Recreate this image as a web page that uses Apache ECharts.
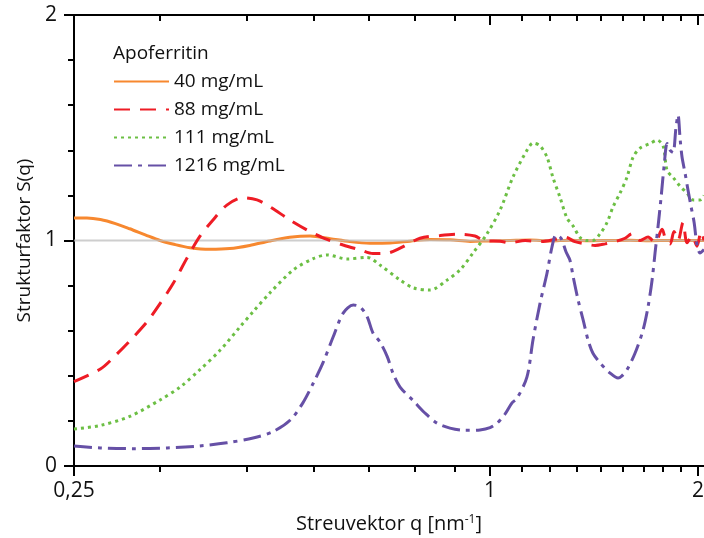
<!DOCTYPE html>
<html><head><meta charset="utf-8">
<script src="https://cdn.jsdelivr.net/npm/echarts@6/dist/echarts.min.js"></script>
<style>html,body{margin:0;padding:0;background:#fff}#c{width:704px;height:538px}</style>
</head><body><div id="c"></div>
<script>
// ---- data ----
const xMajorTicks = [0.25, 1, 2];
const xMinorTicks = [0.333, 0.444, 0.556, 0.667, 0.778, 0.889, 1.111, 1.222, 1.333, 1.444, 1.556, 1.667, 1.778, 1.889];
const seriesNames = ['40 mg/mL', '88 mg/mL', '111 mg/mL', '1216 mg/mL'];

const q40 = [0.25, 0.261, 0.273, 0.287, 0.301, 0.317, 0.333, 0.35, 0.368, 0.393, 0.42, 0.449, 0.48, 0.513, 0.549, 0.587, 0.627, 0.67, 0.717, 0.766, 0.819, 0.875, 0.936, 1.0, 1.069, 1.142, 1.221, 1.305, 1.395, 1.491, 1.594, 1.704, 1.822, 1.947, 2.04];
const s40 = [1.10, 1.10, 1.093, 1.075, 1.052, 1.025, 1.0, 0.982, 0.968, 0.961, 0.964, 0.978, 0.998, 1.014, 1.02, 1.008, 0.995, 0.988, 0.989, 0.997, 1.004, 1.003, 0.996, 0.998, 1.0, 1.002, 0.998, 1.001, 0.999, 1.0, 1.001, 0.999, 1.0, 1.0, 1.0];

const q88 = [0.25, 0.273, 0.287, 0.305, 0.319, 0.333, 0.348, 0.364, 0.38, 0.397, 0.416, 0.439, 0.46, 0.48, 0.514, 0.544, 0.573, 0.613, 0.649, 0.677, 0.71, 0.741, 0.792, 0.847, 0.905, 0.951, 0.981, 1.034, 1.069, 1.124, 1.181, 1.242, 1.284, 1.327, 1.373, 1.419, 1.467, 1.517, 1.568, 1.606, 1.649, 1.693, 1.733, 1.774, 1.797, 1.822, 1.846, 1.871, 1.902, 1.928, 1.96, 1.993, 2.02, 2.04];
const s88 = [0.374, 0.43, 0.49, 0.573, 0.64, 0.72, 0.81, 0.92, 1.017, 1.09, 1.157, 1.19, 1.18, 1.15, 1.09, 1.046, 1.012, 0.98, 0.958, 0.942, 0.944, 0.966, 1.01, 1.022, 1.028, 1.02, 1.0, 0.997, 0.99, 1.0, 0.995, 1.005, 1.015, 0.995, 0.985, 0.978, 0.985, 0.995, 1.01, 1.03, 1.0, 1.015, 0.99, 1.05, 1.0, 0.985, 1.04, 1.0, 1.08, 0.99, 1.02, 0.975, 1.04, 1.0];

const q111 = [0.25, 0.273, 0.301, 0.333, 0.356, 0.38, 0.407, 0.435, 0.454, 0.48, 0.519, 0.555, 0.581, 0.621, 0.664, 0.693, 0.741, 0.774, 0.819, 0.867, 0.905, 0.945, 0.99, 1.034, 1.08, 1.131, 1.154, 1.181, 1.209, 1.233, 1.263, 1.292, 1.319, 1.35, 1.381, 1.409, 1.443, 1.477, 1.507, 1.542, 1.578, 1.611, 1.649, 1.704, 1.745, 1.78, 1.804, 1.84, 1.884, 1.928, 1.967, 2.013, 2.04];
const s111 = [0.164, 0.18, 0.22, 0.293, 0.35, 0.426, 0.514, 0.618, 0.684, 0.767, 0.869, 0.92, 0.936, 0.918, 0.925, 0.891, 0.825, 0.79, 0.78, 0.825, 0.87, 0.945, 1.03, 1.135, 1.283, 1.40, 1.432, 1.42, 1.37, 1.28, 1.19, 1.10, 1.064, 1.013, 1.0, 1.0, 1.03, 1.08, 1.15, 1.21, 1.28, 1.37, 1.41, 1.43, 1.445, 1.42, 1.31, 1.28, 1.24, 1.21, 1.18, 1.18, 1.2];

const q1216 = [0.25, 0.273, 0.304, 0.341, 0.38, 0.416, 0.454, 0.485, 0.514, 0.536, 0.555, 0.573, 0.593, 0.613, 0.634, 0.649, 0.664, 0.677, 0.693, 0.71, 0.724, 0.741, 0.774, 0.805, 0.838, 0.875, 0.92, 0.967, 1.0, 1.024, 1.051, 1.076, 1.094, 1.131, 1.154, 1.181, 1.209, 1.229, 1.246, 1.267, 1.288, 1.305, 1.319, 1.341, 1.364, 1.386, 1.409, 1.443, 1.492, 1.532, 1.552, 1.578, 1.621, 1.665, 1.693, 1.716, 1.733, 1.75, 1.768, 1.786, 1.804, 1.822, 1.84, 1.858, 1.871, 1.884, 1.896, 1.915, 1.934, 1.954, 1.974, 1.993, 2.013, 2.04];
const s1216 = [0.089, 0.08, 0.077, 0.08, 0.089, 0.103, 0.124, 0.152, 0.204, 0.28, 0.368, 0.457, 0.573, 0.678, 0.714, 0.705, 0.662, 0.59, 0.55, 0.485, 0.41, 0.35, 0.29, 0.235, 0.19, 0.168, 0.158, 0.16, 0.17, 0.19, 0.23, 0.28, 0.30, 0.395, 0.56, 0.72, 0.855, 0.97, 1.025, 1.01, 0.95, 0.913, 0.84, 0.736, 0.647, 0.559, 0.5, 0.457, 0.412, 0.39, 0.40, 0.426, 0.5, 0.603, 0.706, 0.825, 0.945, 1.06, 1.19, 1.33, 1.43, 1.40, 1.39, 1.50, 1.556, 1.45, 1.37, 1.30, 1.224, 1.15, 1.08, 0.98, 0.945, 0.96];

const refLine = [[0.25, 1], [2.04, 1]];

// ---- chart ----
const zip = (a, b) => a.map((v, i) => [v, b[i]]);
const FONT = 'Open Sans';
const TXT = '#111';
const xRange = { min: 0.25, max: 2.04 };
const axisLineStyle = { color: '#000', width: 2 };

function xAxisBase(pos, extra) {
  return Object.assign({
    type: 'log', logBase: 10, position: pos, min: xRange.min, max: xRange.max,
    splitLine: { show: false }, minorTick: { show: false }, minorSplitLine: { show: false },
    axisLine: { show: false },
    axisLabel: { show: false }
  }, extra);
}

const chart = echarts.init(document.getElementById('c'));
chart.setOption({
  animation: false,
  backgroundColor: '#fff',
  textStyle: { fontFamily: FONT },
  grid: { left: 74, right: 0, top: 15, bottom: 72, containLabel: false, outerBoundsMode: 'none' },
  title: { text: 'Apoferritin', left: 108, top: 39, textStyle: { fontFamily: FONT, fontSize: 19, fontWeight: 'normal', color: TXT } },
  legend: {
    orient: 'vertical', left: 108, top: 67, itemWidth: 55, itemHeight: 20, itemGap: 9,
    selectedMode: false, data: seriesNames,
    itemStyle: { opacity: 0 },
    textStyle: { fontFamily: FONT, fontSize: 19, color: TXT }
  },
  xAxis: [
    xAxisBase('bottom', {
      axisLine: { show: true, lineStyle: axisLineStyle },
      axisTick: { show: true, customValues: xMajorTicks, length: 10, lineStyle: axisLineStyle },
      axisLabel: { show: true, customValues: xMajorTicks, margin: 15, fontSize: 21, color: TXT, fontFamily: FONT,
        formatter: v => String(Math.round(v * 100) / 100).replace('.', ',') },
      name: 'Streuvektor q [nm{sup|-1}]', nameLocation: 'middle', nameGap: 48,
      nameTextStyle: { fontSize: 20, color: TXT, fontFamily: FONT,
        rich: { sup: { fontSize: 12, verticalAlign: 'top', color: TXT, fontFamily: FONT, padding: [0, 0, 8, 0] } } }
    }),
    xAxisBase('bottom', {
      axisTick: { show: true, customValues: xMinorTicks, length: 6, lineStyle: axisLineStyle }
    }),
    xAxisBase('top', {
      axisLine: { show: true, lineStyle: axisLineStyle },
      axisTick: { show: true, inside: true, customValues: xMajorTicks, length: 10, lineStyle: axisLineStyle }
    }),
    xAxisBase('top', {
      axisTick: { show: true, inside: true, customValues: xMinorTicks, length: 6, lineStyle: axisLineStyle }
    })
  ],
  yAxis: {
    type: 'value', min: 0, max: 2, interval: 1,
    splitLine: { show: false },
    axisLine: { show: true, lineStyle: axisLineStyle },
    axisTick: { show: true, length: 10, lineStyle: axisLineStyle },
    minorTick: { show: true, splitNumber: 5, length: 6, lineStyle: axisLineStyle },
    axisLabel: { margin: 17, fontSize: 21, color: TXT, fontFamily: FONT },
    name: 'Strukturfaktor S(q)', nameLocation: 'middle', nameGap: 38, nameRotate: 90,
    nameTextStyle: { fontSize: 19, color: TXT, fontFamily: FONT }
  },
  series: [
    { name: seriesNames[0], type: 'line', data: zip(q40, s40), showSymbol: false, symbol: 'none', smooth: 0.3,
      lineStyle: { color: '#F7882F', width: 3 }, itemStyle: { color: '#F7882F' }, z: 2 },
    { name: 'ref', type: 'line', data: refLine, showSymbol: false, symbol: 'none', silent: true,
      lineStyle: { color: 'rgba(190,190,190,0.75)', width: 2 }, z: 3 },
    { name: seriesNames[1], type: 'line', data: zip(q88, s88), showSymbol: false, symbol: 'none', smooth: 0.3,
      lineStyle: { color: '#EE1C25', width: 3, type: [16, 10] }, itemStyle: { color: '#EE1C25' }, z: 4 },
    { name: seriesNames[2], type: 'line', data: zip(q111, s111), showSymbol: false, symbol: 'none', smooth: 0.3,
      lineStyle: { color: '#6CBF44', width: 3, type: [3, 4] }, itemStyle: { color: '#6CBF44' }, z: 5 },
    { name: seriesNames[3], type: 'line', data: zip(q1216, s1216), showSymbol: false, symbol: 'none', smooth: 0.3,
      lineStyle: { color: '#6650A6', width: 3, type: [18, 6, 4, 6] }, itemStyle: { color: '#6650A6' }, z: 6 }
  ]
});
</script></body></html>
